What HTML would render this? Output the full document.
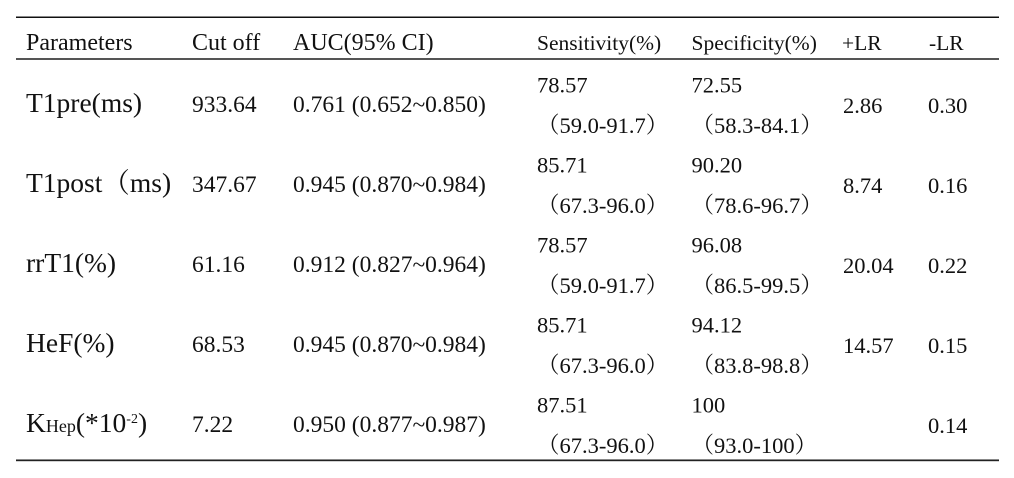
<!DOCTYPE html>
<html>
<head>
<meta charset="utf-8">
<style>
  html, body { margin:0; padding:0; background:#fff; }
  body { width:1014px; height:478px; overflow:hidden; }
  svg { display:block; }
  text { font-family: "Liberation Serif", "Noto Serif CJK SC", serif; fill:#111; }
  .h1 { font-size:24px; }
  .h2 { font-size:21.5px; }
  .lab { font-size:27.5px; }
  .dl { font-size:23.5px; }
  .dr { font-size:22.5px; }
</style>
</head>
<body>
<svg width="1014" height="478" viewBox="0 0 1014 478" xmlns="http://www.w3.org/2000/svg">
  <rect x="16" y="16.5" width="983" height="1.5" fill="#111"/>
  <rect x="16" y="58" width="983" height="2" fill="#555"/>
  <rect x="16" y="459" width="983" height="1" fill="#888"/>
  <rect x="16" y="460" width="983" height="1.2" fill="#222"/>

  <!-- Header -->
  <text class="h1" x="26" y="50">Parameters</text>
  <text class="h1" x="192" y="50">Cut off</text>
  <text class="h1" x="293" y="50">AUC(95% CI)</text>
  <text class="h2" x="537" y="50">Sensitivity(%)</text>
  <text class="h2" x="691.5" y="50">Specificity(%)</text>
  <text class="h2" x="842" y="50">+LR</text>
  <text class="h2" x="929" y="50">-LR</text>

  <!-- Row 1 -->
  <text class="lab" x="26" y="112">T1pre(ms)</text>
  <text class="dl" x="192" y="112">933.64</text>
  <text class="dl" x="293" y="112">0.761 (0.652~0.850)</text>
  <text class="dr" x="537" y="92.5">78.57</text>
  <text class="dr" x="537" y="133">（59.0-91.7）</text>
  <text class="dr" x="691.5" y="92.5">72.55</text>
  <text class="dr" x="691.5" y="133">（58.3-84.1）</text>
  <text class="dr" x="843" y="113">2.86</text>
  <text class="dr" x="928" y="113">0.30</text>

  <!-- Row 2 -->
  <text class="lab" x="26" y="192">T1post（ms)</text>
  <text class="dl" x="192" y="192">347.67</text>
  <text class="dl" x="293" y="192">0.945 (0.870~0.984)</text>
  <text class="dr" x="537" y="172.5">85.71</text>
  <text class="dr" x="537" y="213">（67.3-96.0）</text>
  <text class="dr" x="691.5" y="172.5">90.20</text>
  <text class="dr" x="691.5" y="213">（78.6-96.7）</text>
  <text class="dr" x="843" y="193">8.74</text>
  <text class="dr" x="928" y="193">0.16</text>

  <!-- Row 3 -->
  <text class="lab" x="26" y="272">rrT1(%)</text>
  <text class="dl" x="192" y="272">61.16</text>
  <text class="dl" x="293" y="272">0.912 (0.827~0.964)</text>
  <text class="dr" x="537" y="252.5">78.57</text>
  <text class="dr" x="537" y="293">（59.0-91.7）</text>
  <text class="dr" x="691.5" y="252.5">96.08</text>
  <text class="dr" x="691.5" y="293">（86.5-99.5）</text>
  <text class="dr" x="843" y="273">20.04</text>
  <text class="dr" x="928" y="273">0.22</text>

  <!-- Row 4 -->
  <text class="lab" x="26" y="352">HeF(%)</text>
  <text class="dl" x="192" y="352">68.53</text>
  <text class="dl" x="293" y="352">0.945 (0.870~0.984)</text>
  <text class="dr" x="537" y="332.5">85.71</text>
  <text class="dr" x="537" y="373">（67.3-96.0）</text>
  <text class="dr" x="691.5" y="332.5">94.12</text>
  <text class="dr" x="691.5" y="373">（83.8-98.8）</text>
  <text class="dr" x="843" y="353">14.57</text>
  <text class="dr" x="928" y="353">0.15</text>

  <!-- Row 5 -->
  <text class="lab" x="26" y="432">K<tspan style="font-size:18px">Hep</tspan>(*10<tspan style="font-size:14px" dy="-9">-2</tspan><tspan dy="9">)</tspan></text>
  <text class="dl" x="192" y="432">7.22</text>
  <text class="dl" x="293" y="432">0.950 (0.877~0.987)</text>
  <text class="dr" x="537" y="412.5">87.51</text>
  <text class="dr" x="537" y="453">（67.3-96.0）</text>
  <text class="dr" x="691.5" y="412.5">100</text>
  <text class="dr" x="691.5" y="453">（93.0-100）</text>
  <text class="dr" x="928" y="433">0.14</text>
</svg>
</body>
</html>
